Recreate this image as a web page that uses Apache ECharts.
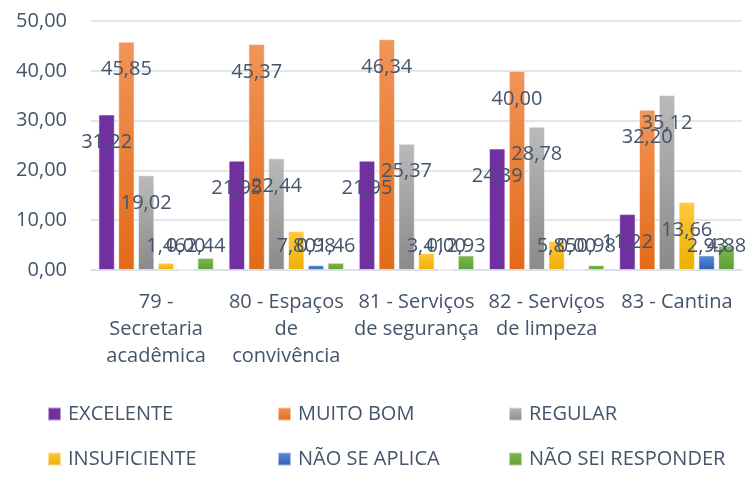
<!DOCTYPE html>
<html>
<head>
<meta charset="utf-8">
<script src="https://cdn.jsdelivr.net/npm/echarts@6/dist/echarts.min.js"></script>
<style>
  html, body { margin: 0; padding: 0; background: #fff; }
  #chart { width: 750px; height: 489px; }
</style>
</head>
<body>
<div id="chart"></div>
<script>
// Categories (survey items) and answer options
const categories = [
  '79 -\nSecretaria\nacadêmica',
  '80 - Espaços\nde\nconvivência',
  '81 - Serviços\nde segurança',
  '82 - Serviços\nde limpeza',
  '83 - Cantina'
];
const seriesNames = ['EXCELENTE', 'MUITO BOM', 'REGULAR', 'INSUFICIENTE', 'NÃO SE APLICA', 'NÃO SEI RESPONDER'];

// Percentages per answer option, one value per category
const excelente      = [31.22, 21.95, 21.95, 24.39, 11.22];
const muitoBom       = [45.85, 45.37, 46.34, 40.00, 32.20];
const regular        = [19.02, 22.44, 25.37, 28.78, 35.12];
const insuficiente   = [1.46, 7.80, 3.41, 5.85, 13.66];
const naoSeAplica    = [0.00, 0.98, 0.00, 0.00, 2.93];
const naoSeiResponder = [2.44, 1.46, 2.93, 0.98, 4.88];

const yTicks = [0, 10, 20, 30, 40, 50];

const values = [excelente, muitoBom, regular, insuficiente, naoSeAplica, naoSeiResponder];

// Fill colours: [top, bottom] of each bar's vertical gradient
const fills = [
  ['#7030A0', '#7030A0'],
  ['#F19558', '#E36A17'],
  ['#BABABA', '#8A8A8A'],
  ['#FFC93F', '#EDB000'],
  ['#5B8CD7', '#2F5EB3'],
  ['#7DB84F', '#5E9E36']
];

const textColor = '#44546A';
const font = 'Open Sans';
const gridColor = '#D9DEE5';

const fmt = v => v.toFixed(2).replace('.', ',');

const grad = c => new echarts.graphic.LinearGradient(0, 0, 0, 1, [
  { offset: 0, color: c[0] },
  { offset: 1, color: c[1] }
]);

const series = seriesNames.map((name, i) => ({
  name: name,
  type: 'bar',
  data: values[i],
  barGap: '21%',
  barCategoryGap: '11.4%',
  itemStyle: {
    color: grad(fills[i]),
    borderColor: 'rgba(255,255,255,0.55)',
    borderWidth: 1
  },
  label: {
    show: true,
    formatter: p => fmt(p.value),
    fontFamily: font,
    fontSize: 20,
    color: textColor
  },
  labelLayout: p => ({
    x: p.rect.x + p.rect.width / 2,
    y: Math.min(p.rect.y + 28, p.rect.y + p.rect.height - 24),
    align: 'center',
    verticalAlign: 'middle'
  })
}));

// Legend laid out as a 3 x 2 table
const legendCols = [47, 277, 508];
const legendRows = [404, 449];
const legends = seriesNames.map((name, i) => ({
  data: [name],
  left: legendCols[i % 3],
  top: legendRows[Math.floor(i / 3)],
  padding: 0,
  icon: 'rect',
  itemWidth: 13,
  itemHeight: 13,
  selectedMode: false,
  textStyle: {
    fontFamily: font,
    fontSize: 20,
    color: textColor,
    padding: [0, 0, 0, 2]
  }
}));

const chart = echarts.init(document.getElementById('chart'), null, { renderer: 'canvas' });
chart.setOption({
  animation: false,
  backgroundColor: '#ffffff',
  textStyle: { fontFamily: font },
  legend: legends,
  grid: { left: 91, right: 8, top: 21, bottom: 219, containLabel: false },
  xAxis: {
    type: 'category',
    data: categories,
    axisLine: { show: true, lineStyle: { color: gridColor, width: 1.5 } },
    axisTick: { show: false },
    axisLabel: {
      interval: 0,
      margin: 19,
      fontFamily: font,
      fontSize: 20,
      lineHeight: 27,
      color: textColor
    }
  },
  yAxis: {
    type: 'value',
    min: yTicks[0],
    max: yTicks[yTicks.length - 1],
    interval: yTicks[1] - yTicks[0],
    axisLine: { show: false },
    axisTick: { show: false },
    splitLine: { lineStyle: { color: gridColor, width: 1.5 } },
    axisLabel: {
      margin: 24,
      fontFamily: font,
      fontSize: 20,
      color: textColor,
      formatter: v => fmt(v)
    }
  },
  series: series
});
</script>
</body>
</html>
